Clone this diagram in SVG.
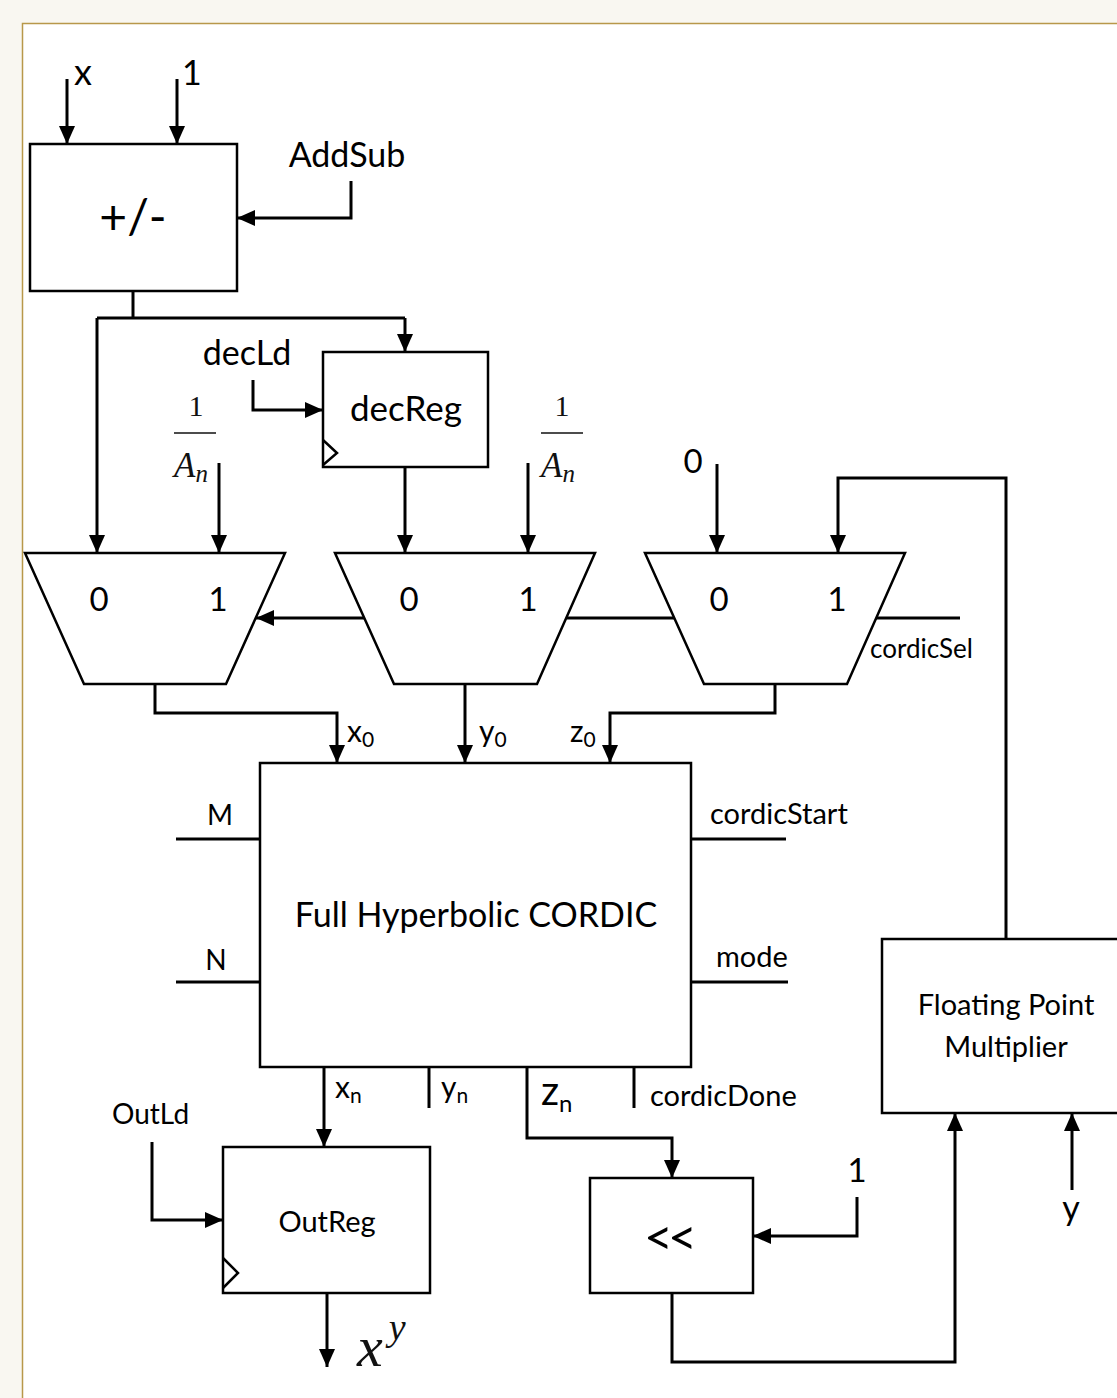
<svg xmlns="http://www.w3.org/2000/svg" width="1117" height="1398" viewBox="0 0 1117 1398">
<defs>
<marker id="arr" viewBox="0 0 18 16" refX="18" refY="8" markerWidth="18" markerHeight="16" orient="auto" markerUnits="userSpaceOnUse"><path d="M0,0L18,8L0,16Z" fill="#000"/></marker>
<style>
.box{fill:#fff;stroke:#000;stroke-width:2.5}
.w{fill:none;stroke:#000;stroke-width:3}
.wa{fill:none;stroke:#000;stroke-width:3;marker-end:url(#arr)}
.t{font-family:Lato,"Open Sans",sans-serif;fill:#000}
.m{font-family:"Liberation Serif","DejaVu Serif",serif;font-style:italic;fill:#111}
.mn{font-family:"Liberation Serif","DejaVu Serif",serif;fill:#111}
</style>
</defs>
<rect x="0" y="0" width="1117" height="1398" fill="#f9f7f1"/>
<rect x="22.5" y="23.5" width="1120" height="1400" fill="#fff" stroke="#b8984a" stroke-width="1.5"/>

<g id="connectors">
<path class="wa" d="M67,79V144"/>
<path class="wa" d="M177,79V144"/>
<path class="wa" d="M351,181V218H237"/>
<path class="w" d="M133,291V318"/>
<path class="w" d="M97,318H405"/>
<path class="wa" d="M97,318V553"/>
<path class="wa" d="M405,318V352"/>
<path class="wa" d="M253,380V410H323"/>
<path class="wa" d="M219,463V553"/>
<path class="wa" d="M405,467V553"/>
<path class="wa" d="M528,463V553"/>
<path class="wa" d="M717,464V553"/>
<path class="wa" d="M1006,939V478H838V553"/>
<path class="w" d="M876,618H960"/>
<path class="w" d="M567,618H675"/>
<path class="wa" d="M364,618H256"/>
<path class="wa" d="M155,684V713H337V763"/>
<path class="wa" d="M465,684V763"/>
<path class="wa" d="M775,684V713H610V763"/>
<path class="w" d="M176,839H260"/>
<path class="w" d="M176,982H260"/>
<path class="w" d="M691,839H786"/>
<path class="w" d="M691,982H788"/>
<path class="wa" d="M324,1067V1147"/>
<path class="w" d="M429,1067V1108"/>
<path class="wa" d="M527,1067V1138H672V1178"/>
<path class="w" d="M634,1067V1108"/>
<path class="wa" d="M152,1142V1220H223"/>
<path class="wa" d="M327,1293V1367"/>
<path class="wa" d="M857,1197V1236H753"/>
<path class="wa" d="M672,1293V1362H955V1113"/>
<path class="wa" d="M1072,1190V1113"/>
</g>

<g id="addsub">
<rect class="box" x="30" y="144" width="207" height="147"/>
<text class="t" x="133" y="234" font-size="48" text-anchor="middle">+/-</text>
</g>
<g id="decReg">
<rect class="box" x="323" y="352" width="165" height="115"/>
<path d="M323,440L337,453L323,465" fill="none" stroke="#000" stroke-width="2.5"/>
<text class="t" x="406" y="421" font-size="35" text-anchor="middle">decReg</text>
</g>
<g id="mux1">
<polygon class="box" points="25,553 285,553 226,684 84,684"/>
<text class="t" x="99" y="611" font-size="33" text-anchor="middle">0</text>
<text class="t" x="218" y="611" font-size="33" text-anchor="middle">1</text>
</g>
<g id="mux2">
<polygon class="box" points="335,553 595,553 537,684 394,684"/>
<text class="t" x="409" y="611" font-size="33" text-anchor="middle">0</text>
<text class="t" x="528" y="611" font-size="33" text-anchor="middle">1</text>
</g>
<g id="mux3">
<polygon class="box" points="645,553 905,553 847,684 704,684"/>
<text class="t" x="719" y="611" font-size="33" text-anchor="middle">0</text>
<text class="t" x="837" y="611" font-size="33" text-anchor="middle">1</text>
</g>
<g id="cordic">
<rect class="box" x="260" y="763" width="431" height="304"/>
<text class="t" x="476" y="927" font-size="34" text-anchor="middle">Full Hyperbolic CORDIC</text>
</g>
<g id="outReg">
<rect class="box" x="223" y="1147" width="207" height="146"/>
<path d="M223,1258L238,1273L223,1288" fill="none" stroke="#000" stroke-width="2.5"/>
<text class="t" x="327" y="1232" font-size="29" text-anchor="middle">OutReg</text>
</g>
<g id="shift">
<rect class="box" x="590" y="1178" width="163" height="115"/>
<text class="t" x="668" y="1255" font-size="50" text-anchor="middle" letter-spacing="-5">&lt;&lt;</text>
</g>
<g id="fpm">
<rect class="box" x="882" y="939" width="250" height="174"/>
<text class="t" x="1006" y="1015" font-size="29" text-anchor="middle">Floating Point</text>
<text class="t" x="1006" y="1057" font-size="29" text-anchor="middle">Multiplier</text>
</g>

<g id="labels">
<text class="t" x="74" y="85" font-size="36">x</text>
<text class="t" x="182" y="85" font-size="34">1</text>
<text class="t" x="347" y="167" font-size="34" text-anchor="middle">AddSub</text>
<text class="t" x="247" y="365" font-size="34" text-anchor="middle">decLd</text>
<text class="mn" x="196" y="416" font-size="30" text-anchor="middle">1</text>
<line x1="174" y1="433" x2="216" y2="433" stroke="#111" stroke-width="1.5"/>
<text class="m" x="174" y="477" font-size="35">A<tspan font-size="25" dy="5">n</tspan></text>
<text class="mn" x="562" y="416" font-size="30" text-anchor="middle">1</text>
<line x1="541" y1="433" x2="583" y2="433" stroke="#111" stroke-width="1.5"/>
<text class="m" x="541" y="477" font-size="35">A<tspan font-size="25" dy="5">n</tspan></text>
<text class="t" x="693" y="473" font-size="33" text-anchor="middle">0</text>
<text class="t" x="870" y="658" font-size="26">cordicSel</text>
<text class="t" x="347" y="742" font-size="30">x<tspan font-size="21" dy="5">0</tspan></text>
<text class="t" x="479" y="742" font-size="30">y<tspan font-size="21" dy="5">0</tspan></text>
<text class="t" x="570" y="742" font-size="30">z<tspan font-size="21" dy="5">0</tspan></text>
<text class="t" x="220" y="825" font-size="28" text-anchor="middle">M</text>
<text class="t" x="216" y="970" font-size="28" text-anchor="middle">N</text>
<text class="t" x="710" y="824" font-size="29">cordicStart</text>
<text class="t" x="716" y="967" font-size="29">mode</text>
<text class="t" x="335" y="1098" font-size="30">x<tspan font-size="21" dy="5">n</tspan></text>
<text class="t" x="441" y="1098" font-size="30">y<tspan font-size="21" dy="5">n</tspan></text>
<text class="t" x="541" y="1105" font-size="40">z<tspan font-size="24" dy="7">n</tspan></text>
<text class="t" x="650" y="1106" font-size="29">cordicDone</text>
<text class="t" x="112" y="1124" font-size="28">OutLd</text>
<text class="m" x="357" y="1366" font-size="58">x<tspan font-size="38" dx="6" dy="-26">y</tspan></text>
<text class="t" x="857" y="1182" font-size="33" text-anchor="middle">1</text>
<text class="t" x="1071" y="1220" font-size="34" text-anchor="middle">y</text>
</g>
</svg>
